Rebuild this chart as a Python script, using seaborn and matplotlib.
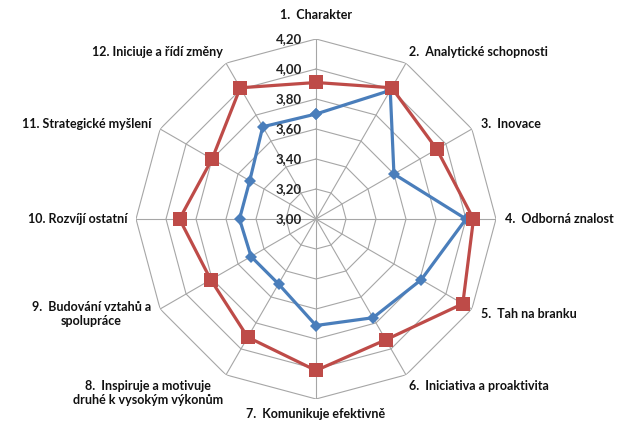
import numpy as np
import pandas as pd
import matplotlib
matplotlib.use("Agg")
import matplotlib.pyplot as plt
import seaborn as sb

# Data
categories = [
    "1.  Charakter",
    "2.  Analytické schopnosti",
    "3.  Inovace",
    "4.  Odborná znalost",
    "5.  Tah na branku",
    "6.  Iniciativa a proaktivita",
    "7.  Komunikuje efektivně",
    "8.  Inspiruje a motivuje\ndruhé k vysokým výkonům",
    "9.  Budování vztahů a\nspolupráce",
    "10. Rozvíjí ostatní",
    "11. Strategické myšlení",
    "12. Iniciuje a řídí změny",
]
blue_values = [3.70, 3.99, 3.60, 4.00, 3.81, 3.76, 3.71, 3.50, 3.50, 3.51, 3.51, 3.71]
red_values = [3.91, 4.01, 3.93, 4.05, 4.13, 3.93, 4.01, 3.91, 3.81, 3.91, 3.80, 4.01]
rticks = [3.00, 3.20, 3.40, 3.60, 3.80, 4.00, 4.20]
rtick_labels = ["3,00", "3,20", "3,40", "3,60", "3,80", "4,00", "4,20"]

sb.set_style("white")
plt.rcParams['font.family'] = ['Lato', 'DejaVu Sans']

n = len(categories)
theta = np.linspace(0, 2 * np.pi, n, endpoint=False)
theta_closed = np.append(theta, theta[0])

fig = plt.figure(figsize=(6.24, 4.25), dpi=100)
ax = fig.add_axes([136 / 624, 26 / 425, 360 / 624, 360 / 425], projection="polar")
ax.set_theta_zero_location("N")
ax.set_theta_direction(-1)
ax.set_ylim(3.0, 4.2)
ax.grid(False)
ax.spines["polar"].set_visible(False)
ax.set_xticks([])
ax.set_yticks([])

grid_color = "#a6a6a6"
# polygon grid
for r in rticks[1:]:
    ax.plot(theta_closed, [r] * (n + 1), color=grid_color, lw=0.8, zorder=1)
for t in theta:
    ax.plot([t, t], [3.0, 4.2], color=grid_color, lw=0.8, zorder=1)

df = pd.DataFrame({
    "theta": np.concatenate([theta_closed, theta_closed]),
    "value": blue_values + blue_values[:1] + red_values + red_values[:1],
    "series": ["blue"] * (n + 1) + ["red"] * (n + 1),
})
palette = {"blue": "#4a7ebb", "red": "#be4b48"}
sb.lineplot(data=df, x="theta", y="value", hue="series", style="series",
            markers={"blue": "D", "red": "s"}, dashes=False, sort=False,
            estimator=None, palette=palette, lw=2.3, ax=ax, legend=False, zorder=3)
for line in ax.lines[-2:]:
    line.set_markeredgewidth(0)
ax.lines[-2].set_markersize(6.5)
ax.lines[-1].set_markersize(9.5)
ax.set_xlabel("")
ax.set_ylabel("")
ax.set_ylim(3.0, 4.2)

# radial tick labels along the top spoke
for r, lbl in zip(rticks, rtick_labels):
    ax.annotate(lbl, (0, r), xytext=(-10, 0), textcoords="offset points",
                ha="right", va="center", fontsize=9.5, fontweight="bold", color="#222222")

# category labels
label_pos = [
    (4.32, "center", "bottom"),
    (4.24, "left", "bottom"),
    (4.27, "left", "center"),
    (4.26, "left", "center"),
    (4.27, "left", "center"),
    (4.24, "left", "top"),
    (4.26, "center", "top"),
    (4.24, "right", "top"),
    (4.27, "right", "center"),
    (4.26, "right", "center"),
    (4.27, "right", "center"),
    (4.24, "right", "bottom"),
]
for t, lbl, (r, ha, va) in zip(theta, categories, label_pos):
    ax.text(t, r, lbl, ha=ha, va=va, multialignment="center", fontsize=9,
            fontweight="bold", color="#111111", clip_on=False)

fig.savefig("out.png", dpi=100)
